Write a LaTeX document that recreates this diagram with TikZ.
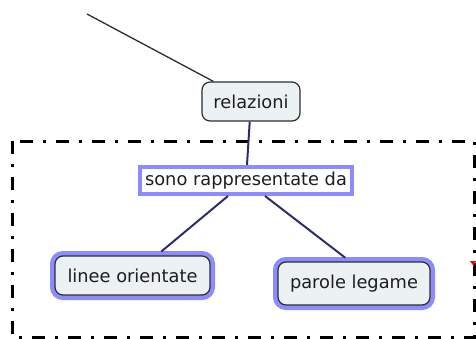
\documentclass[tikz,border=0pt]{standalone}
\usepackage{fontspec}
\setmainfont{DejaVu Sans}
\definecolor{glow}{RGB}{140,140,255}
\definecolor{boxfill}{RGB}{236,241,243}
\definecolor{boxline}{RGB}{45,45,45}
\definecolor{connc}{RGB}{45,45,110}
\definecolor{txt}{RGB}{30,30,30}
\begin{document}
\begin{tikzpicture}[x=1pt,y=-1pt,
  concept/.style={draw=boxline, line width=1.2pt, fill=boxfill, rounded corners=8pt,
    text=txt, font=\fontsize{17.8}{20}\selectfont, inner sep=0pt},
  glowing/.style={preaction={draw=glow, line width=10pt}},
  linkbox/.style={draw=glow, line width=4pt, fill=white, text=txt,
    font=\fontsize{17.8}{20}\selectfont, inner sep=0pt},
  connline/.style={draw=connc, line width=2pt},
  frame/.style={draw=black, line width=3pt, dash pattern=on 13pt off 10pt on 3pt off 10pt}]
\useasboundingbox (0,0) rectangle (476,338);
\draw[frame] (12,141) rectangle (474.5,337);
\coordinate (src) at (87,14);
\node[concept, minimum width=98pt, minimum height=39pt] (rel) at (251,101.5) {relazioni};
\node[linkbox, minimum width=212pt, minimum height=27pt] (sono) at (246,180.5) {sono rappresentate da};
\node[concept, glowing, minimum width=155pt, minimum height=39pt] (linee) at (132.5,275.5) {linee orientate};
\node[concept, glowing, minimum width=152pt, minimum height=43pt] (parole) at (354,283.5) {parole legame};
\draw[draw=boxline, line width=1.3pt] (src) -- (rel);
\draw[connline] (rel) -- (sono);
\draw[connline, shorten >=6pt] ([xshift=-18pt]sono.south) -- (linee);
\draw[connline, shorten >=6pt] ([xshift=19pt]sono.south) -- ([xshift=-4pt]parole.north);
\fill[red] (470,261) -- (476,261) -- (473.5,266) -- cycle;
\end{tikzpicture}
\end{document}
